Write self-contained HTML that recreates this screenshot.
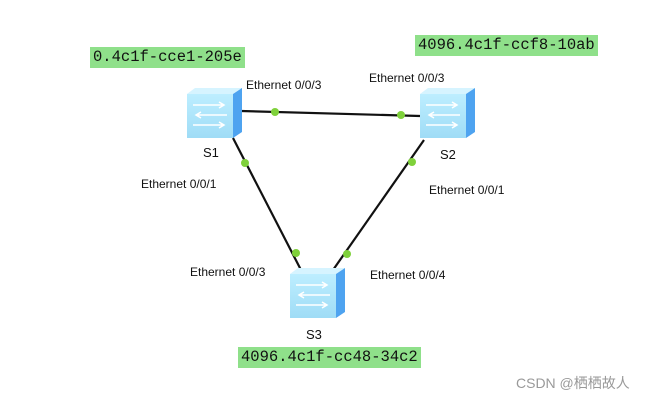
<!DOCTYPE html>
<html><head><style>
body{margin:0;width:668px;height:400px;background:#fff;position:relative;overflow:hidden;font-family:"Liberation Sans",sans-serif}
.t{position:absolute;font-size:12px;color:#111;white-space:nowrap}
.m{position:absolute;background:#8fe08a;font-family:"Liberation Mono",monospace;font-size:15.5px;color:#111;padding:1px 3px;line-height:19px;white-space:nowrap}
.s{position:absolute;font-size:13px;color:#111}
</style></head><body>
<svg width="668" height="400" style="position:absolute;left:0;top:0">
<defs>
<linearGradient id="f" x1="0" y1="0" x2="0" y2="1"><stop offset="0" stop-color="#bdeeff"/><stop offset="1" stop-color="#9fdcf6"/></linearGradient>
<g id="sw">
<polygon points="0,6 8,0 55,0 46,6" fill="#d6f4ff"/>
<rect x="0" y="6" width="46" height="44" fill="url(#f)"/>
<polygon points="46,6 55,0 55,44 46,50" fill="#4ea3f0"/>
<g stroke="#fff" stroke-width="1.5" fill="none">
<path d="M6,17 H36 M32,14 L37,17 L32,20"/>
<path d="M40,27 H10 M14,24 L9,27 L14,30"/>
<path d="M6,37 H36 M32,34 L37,37 L32,40"/>
</g>
</g>
</defs>
<g stroke="#111" stroke-width="2.2">
<line x1="241" y1="111" x2="420" y2="116"/>
<line x1="233" y1="138" x2="301" y2="270"/>
<line x1="424" y1="140" x2="333" y2="270"/>
</g>
<g fill="#7fd13b">
<circle cx="275" cy="112" r="4"/><circle cx="401" cy="115" r="4"/>
<circle cx="245" cy="163" r="4"/><circle cx="296" cy="253" r="4"/>
<circle cx="412" cy="162" r="4"/><circle cx="347" cy="254" r="4"/>
</g>
<use href="#sw" x="187" y="88"/>
<use href="#sw" x="420" y="88"/>
<use href="#sw" x="290" y="268"/>
</svg>
<div class="m" style="left:90px;top:47px">0.4c1f-cce1-205e</div>
<div class="m" style="left:415px;top:35px">4096.4c1f-ccf8-10ab</div>
<div class="m" style="left:238px;top:347px">4096.4c1f-cc48-34c2</div>
<div class="t" style="left:246px;top:78px">Ethernet 0/0/3</div>
<div class="t" style="left:369px;top:71px">Ethernet 0/0/3</div>
<div class="t" style="left:141px;top:177px">Ethernet 0/0/1</div>
<div class="t" style="left:429px;top:183px">Ethernet 0/0/1</div>
<div class="t" style="left:190px;top:265px">Ethernet 0/0/3</div>
<div class="t" style="left:370px;top:268px">Ethernet 0/0/4</div>
<div class="s" style="left:203px;top:145px">S1</div>
<div class="s" style="left:440px;top:147px">S2</div>
<div class="s" style="left:306px;top:327px">S3</div>
<div class="t" style="left:516px;top:373px;font-size:14px;color:#999;font-family:'Liberation Sans','Noto Sans CJK SC',sans-serif">CSDN @栖栖故人</div>
</body></html>
